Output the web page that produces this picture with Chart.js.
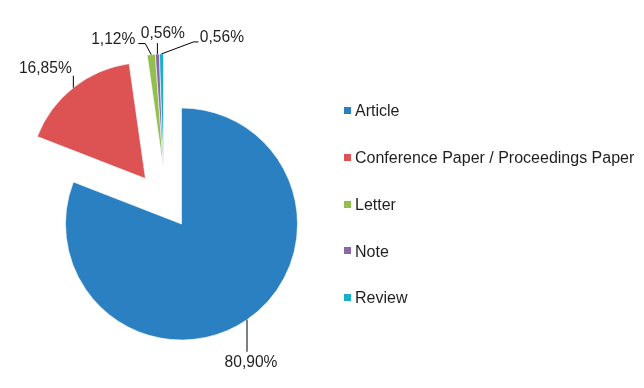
<!DOCTYPE html>
<html>
<head>
<meta charset="utf-8">
<script src="https://cdn.jsdelivr.net/npm/chart.js@4"></script>
<style>
  html, body { margin: 0; padding: 0; background: #fff; }
  #wrap { width: 644px; height: 388px; position: relative; }
</style>
</head>
<body>
<div id="wrap"><canvas id="chartTipos"></canvas></div>
<script>
// Tipos de documento (n = 178)
const LABELS = ["Article", "Conference Paper / Proceedings Paper", "Letter", "Note", "Review"];
const COUNTS = [144, 30, 2, 1, 1];
const COLORS = ["#2a80c0", "#dd5252", "#93bf4f", "#8a67a9", "#1aaecd"];

// explosión de cada porción: distancia en px y dirección (grados desde arriba, horario; null = eje propio)
const EXPLODE_DIST = [0, 58, 57, 57, 57];
const EXPLODE_DIR = [null, null, 341.6, 341.6, 341.6];

// etiquetas de porcentaje: centro del texto y quiebres de la línea guía, relativos al punto del arco
const LABEL_LAYOUT = [
  { text: [4, 42], line: [[0, 32]] },
  { text: [-28, -20.5], line: [[0, -12]] },
  { text: [-38, -16], line: [[-6, -11], [-13, -11]] },
  { text: [5.5, -22], line: [[0, -11]] },
  { text: [60.5, -18], line: [[32, -12], [37, -12]] },
];

const LABEL_FONT = "15.6px 'Liberation Sans', Arial, sans-serif";
const LEGEND_FONT = "16px 'Liberation Sans', Arial, sans-serif";
const TEXT_COLOR = "#1f1f1f";
const total = COUNTS.reduce((a, b) => a + b, 0);
const pct = (v) => (v / total * 100).toFixed(2).replace(".", ",") + "%";

function explodeShift(arc, i) {
  const dist = EXPLODE_DIST[i] || 0;
  const ang = EXPLODE_DIR[i] == null
    ? (arc.startAngle + arc.endAngle) / 2
    : (EXPLODE_DIR[i] - 90) * Math.PI / 180;
  return [Math.cos(ang) * dist, Math.sin(ang) * dist];
}

// dibuja cada porción desplazada (sin el agrandado de radio que hace "offset")
const explodePlugin = {
  id: "explode",
  beforeDatasetDraw(chart, args) {
    const ctx = chart.ctx;
    args.meta.data.forEach((arc, i) => {
      const [dx, dy] = explodeShift(arc, i);
      ctx.save();
      ctx.translate(dx, dy);
      arc.draw(ctx);
      ctx.restore();
    });
    return false;
  },
};

// etiquetas con líneas guía
const labelPlugin = {
  id: "pctLabels",
  afterDatasetsDraw(chart) {
    const ctx = chart.ctx;
    const meta = chart.getDatasetMeta(0);
    ctx.save();
    ctx.font = LABEL_FONT;
    ctx.fillStyle = TEXT_COLOR;
    ctx.strokeStyle = "#000";
    ctx.lineWidth = 1;
    ctx.textAlign = "center";
    ctx.textBaseline = "alphabetic";
    meta.data.forEach((arc, i) => {
      const [sx, sy] = explodeShift(arc, i);
      const mid = (arc.startAngle + arc.endAngle) / 2;
      const ax = arc.x + sx + Math.cos(mid) * arc.outerRadius;
      const ay = arc.y + sy + Math.sin(mid) * arc.outerRadius;
      const L = LABEL_LAYOUT[i];
      ctx.beginPath();
      ctx.moveTo(ax, ay);
      L.line.forEach(([px, py]) => ctx.lineTo(ax + px, ay + py));
      ctx.stroke();
      ctx.fillText(pct(COUNTS[i]), ax + L.text[0], ay + L.text[1] + 5.6);
    });
    ctx.restore();
  },
};

// leyenda a la derecha
const legendPlugin = {
  id: "sideLegend",
  afterDraw(chart) {
    const ctx = chart.ctx;
    ctx.save();
    ctx.font = LEGEND_FONT;
    ctx.textAlign = "left";
    ctx.textBaseline = "alphabetic";
    LABELS.forEach((lab, i) => {
      const cy = 110.5 + i * 46.8;
      ctx.fillStyle = COLORS[i];
      ctx.fillRect(344, Math.round(cy - 3.5), 7, 7);
      ctx.fillStyle = TEXT_COLOR;
      ctx.fillText(lab, 355, cy + 5.7);
    });
    ctx.restore();
  },
};

new Chart(document.getElementById("chartTipos"), {
  type: "pie",
  data: {
    labels: LABELS,
    datasets: [{
      data: COUNTS,
      backgroundColor: COLORS,
      borderColor: "#ffffff",
      borderWidth: 0.6,
      hoverOffset: 0,
    }],
  },
  options: {
    responsive: true,
    maintainAspectRatio: false,
    animation: false,
    radius: 116,
    layout: { padding: { left: 0, right: 281, top: 60, bottom: 0 } },
    plugins: {
      legend: { display: false },
      tooltip: { enabled: false },
    },
  },
  plugins: [explodePlugin, labelPlugin, legendPlugin],
});
</script>
</body>
</html>
